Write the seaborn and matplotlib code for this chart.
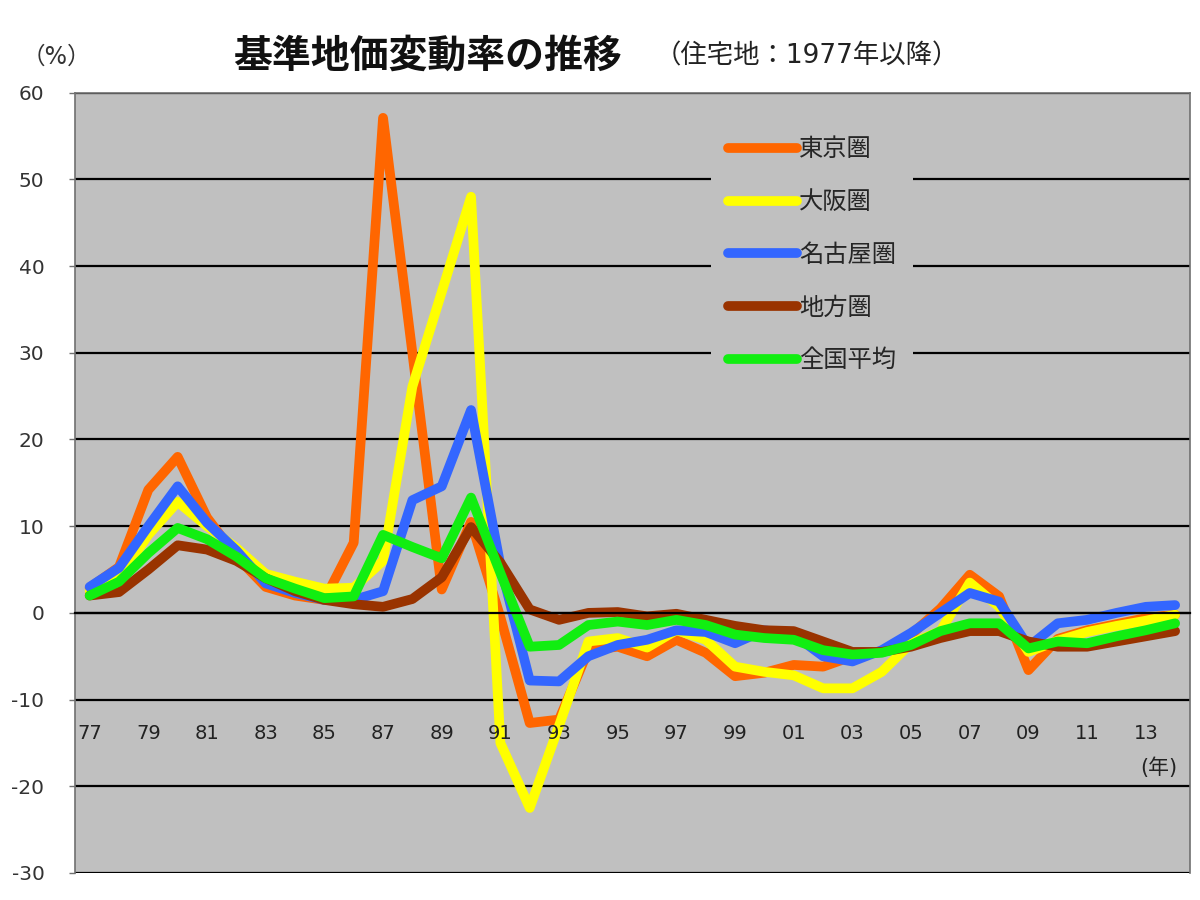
import numpy as np
import pandas as pd
import seaborn as sns
import matplotlib.pyplot as plt

sns.set_style('white')
plt.rcParams['font.family'] = ['DejaVu Sans', 'Noto Sans CJK JP']
plt.rcParams['axes.unicode_minus'] = False
plt.rcParams['lines.solid_joinstyle'] = 'round'
plt.rcParams['lines.solid_capstyle'] = 'round'

# 年 (1977-2014)
years = list(range(1977, 2015))

# 基準地価変動率 住宅地 (%)
tokyo = [2.9, 5.3, 14.2, 18.0, 11.0, 6.5, 3.0, 2.0, 1.5, 8.1,
         57.1, 30.0, 2.7, 10.5, -0.5, -12.7, -12.3, -4.3, -3.9, -5.0,
         -3.1, -4.6, -7.3, -6.9, -6.0, -6.2, -5.0, -4.5, -2.5, 0.5,
         4.4, 1.9, -6.6, -3.0, -2.0, -1.3, -0.6, -0.2]
osaka = [2.5, 4.0, 9.0, 12.8, 10.0, 7.5, 4.5, 3.6, 2.8, 2.9,
         6.0, 26.1, 37.0, 48.0, -15.0, -22.5, -13.0, -3.3, -2.9, -4.0,
         -2.0, -3.1, -6.2, -6.8, -7.2, -8.7, -8.7, -6.8, -3.5, -2.1,
         3.5, 0.7, -4.5, -3.2, -2.2, -1.5, -0.9, -0.2]
nagoya = [3.0, 5.2, 10.0, 14.6, 10.4, 7.2, 3.4, 2.3, 1.5, 1.5,
          2.5, 13.0, 14.6, 23.4, 5.5, -7.8, -7.9, -5.0, -3.7, -3.1,
          -2.0, -2.2, -3.5, -2.0, -2.5, -5.0, -5.6, -4.3, -2.3, 0.0,
          2.3, 1.3, -3.9, -1.2, -0.8, 0.0, 0.7, 0.9]
chiho = [2.0, 2.4, 5.0, 7.8, 7.3, 6.0, 4.0, 2.5, 1.5, 1.0,
         0.7, 1.6, 4.1, 9.9, 5.8, 0.4, -0.8, 0.0, 0.1, -0.4,
         -0.1, -0.8, -1.5, -2.0, -2.1, -3.3, -4.5, -4.5, -3.9, -2.9,
         -2.1, -2.1, -3.3, -3.9, -3.9, -3.3, -2.7, -2.1]
zenkoku = [2.0, 3.6, 6.9, 9.8, 8.5, 6.5, 4.0, 2.8, 1.7, 1.9,
           9.0, 7.6, 6.3, 13.3, 4.6, -3.9, -3.7, -1.4, -1.0, -1.4,
           -0.8, -1.4, -2.5, -2.9, -3.1, -4.3, -4.8, -4.6, -3.7, -2.1,
           -1.2, -1.2, -4.1, -3.3, -3.5, -2.7, -2.0, -1.2]

series_names = ['東京圏', '大阪圏', '名古屋圏', '地方圏', '全国平均']
colors = ['#FF6600', '#FFFF00', '#3366FF', '#993300', '#11EE11']

df = pd.DataFrame({'year': years, '東京圏': tokyo, '大阪圏': osaka,
                   '名古屋圏': nagoya, '地方圏': chiho, '全国平均': zenkoku})
long_df = df.melt(id_vars='year', var_name='area', value_name='rate')

fig = plt.figure(figsize=(12, 9), dpi=100)
ax = fig.add_axes([0.0625, 0.03, 0.929, 0.867])
ax.set_facecolor('#C0C0C0')

sns.lineplot(data=long_df, x='year', y='rate', hue='area', hue_order=series_names,
             palette=colors, linewidth=7, ax=ax)

ax.set_xlim(years[0] - 0.5, years[-1] + 0.5)
ax.set_ylim(-30, 60)
ax.set_yticks(np.arange(-30, 61, 10))
ax.grid(axis='y', color='black', linewidth=1.6)
ax.grid(axis='x', visible=False)
ax.set_axisbelow(True)

# x軸は0の位置、目盛ラベルは線の上に
ax.spines['bottom'].set_position(('data', 0))
ax.spines['bottom'].set_color('black')
ax.spines['bottom'].set_linewidth(1.6)
ax.xaxis.set_zorder(5)
for s in ['left', 'right', 'top']:
    ax.spines[s].set_color('#707070')
    ax.spines[s].set_linewidth(1.2)

label_years = years[::2]
ax.set_xticks(label_years, [f'{y % 100:02d}' for y in label_years])
ax.set_xticks(np.arange(years[0] - 0.5, years[-1] + 1), minor=True)
ax.tick_params(axis='x', which='major', length=0, pad=80, labelsize=14, labelcolor='#222222')
ax.tick_params(axis='x', which='minor', direction='in', length=7, width=1.4, color='black')
ax.tick_params(axis='y', direction='out', length=4, width=1, color='#707070',
               pad=18, labelsize=14.5, labelcolor='#333333', left=True)
ax.set_xlabel('')
ax.set_ylabel('')

leg = ax.legend(loc='upper left', bbox_to_anchor=(0.56, 0.98), fontsize=17.5,
                frameon=True, facecolor='#C0C0C0', edgecolor='none', framealpha=1,
                handlelength=2.8, handletextpad=0.1, labelspacing=1.18,
                borderpad=0.7)
for line in leg.get_lines():
    line.set_linewidth(7)

ax.text(0.972, 0.135, '(年)', transform=ax.transAxes, ha='center', va='center',
        fontsize=15, color='#222222')

fig.text(0.356, 0.937, '基準地価変動率の推移', ha='center', va='center',
         fontsize=28, fontweight='bold', color='#111111')
fig.text(0.672, 0.937, '（住宅地：1977年以降）', ha='center', va='center',
         fontsize=19, color='#222222')
fig.text(0.047, 0.937, '（%）', ha='center', va='center', fontsize=17, color='#333333')

fig.savefig('out.png', dpi=100, facecolor='white')
